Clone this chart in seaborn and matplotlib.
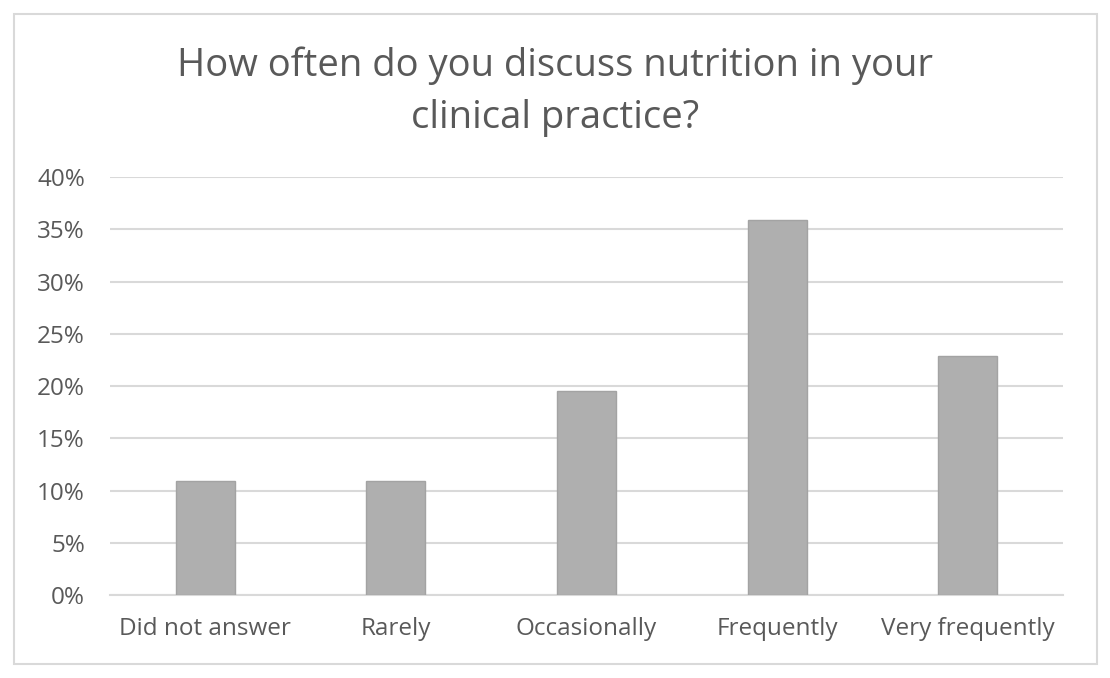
import matplotlib.pyplot as plt
import matplotlib
import seaborn as sns
from matplotlib.patches import Rectangle
from matplotlib.ticker import PercentFormatter

# survey answers (n = 92)
categories = ['Did not answer', 'Rarely', 'Occasionally', 'Frequently', 'Very frequently']
counts = [10, 10, 18, 33, 21]
total = 92
shares = [c / total * 100 for c in counts]
yticks = [0, 5, 10, 15, 20, 25, 30, 35, 40]

sns.set_theme(style='white')
plt.rcParams['font.family'] = ['Open Sans', 'DejaVu Sans']
txt = '#595959'

fig = plt.figure(figsize=(11.1, 6.78), dpi=100)
ax = fig.add_axes([0.0991, 0.1224, 0.8586, 0.6165])

sns.barplot(x=categories, y=shares, color='#afafaf', width=0.31,
            edgecolor='#a3a3a3', linewidth=1, saturation=1, ax=ax, zorder=3)

ax.set_ylim(0, 40)
ax.set_xlim(-0.5, 4.5)
ax.set_yticks(yticks)
ax.yaxis.set_major_formatter(PercentFormatter(decimals=0))
ax.grid(axis='y', color='#d9d9d9', linewidth=1.5, zorder=0)
for s in ['top', 'right', 'left']:
    ax.spines[s].set_visible(False)
ax.spines['bottom'].set_color('#d9d9d9')
ax.spines['bottom'].set_linewidth(1.5)
ax.tick_params(axis='x', colors=txt, labelsize=17.5, length=0, pad=16)
ax.tick_params(axis='y', colors=txt, labelsize=17.5, length=0, pad=18)

fig.text(0.5, 0.865, 'How often do you discuss nutrition in your\nclinical practice?',
         ha='center', va='center', fontsize=27.5, color=txt, linespacing=1.5)

# outer chart frame
fig.patches.append(Rectangle((14 / 1110, 1 - 664 / 678), 1083 / 1110, 650 / 678,
                             transform=fig.transFigure, fill=False,
                             edgecolor='#d9d9d9', linewidth=1.5))

plt.savefig('out.png', dpi=100)
